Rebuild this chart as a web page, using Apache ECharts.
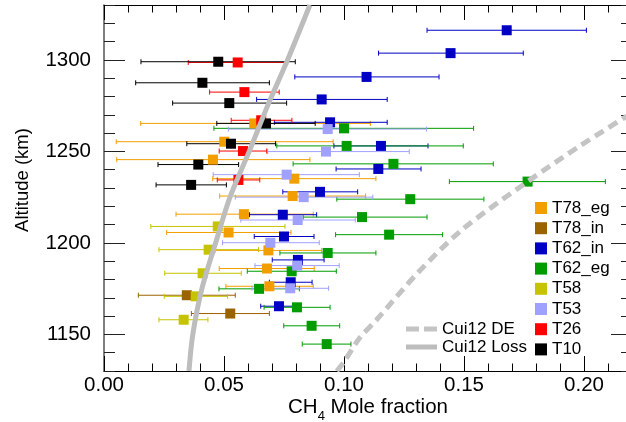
<!DOCTYPE html>
<html>
<head>
<meta charset="utf-8">
<script src="https://cdn.jsdelivr.net/npm/echarts@6/dist/echarts.min.js"></script>
<style>
  html, body { margin: 0; padding: 0; background: #fff; }
  #chart { width: 626px; height: 422px; }
</style>
</head>
<body>
<div id="chart"></div>
<script>
// 每行: [高度 km, 摩尔分数, 误差下限, 误差上限]
const T78_eg = [
  [1265.3, 0.0626, 0.0153, 0.111], [1255.3, 0.0501, 0.0051, 0.0955],
  [1245.5, 0.0454, 0.0053, 0.0858], [1235.1, 0.0793, 0.0453, 0.1133],
  [1225.6, 0.0786, 0.0482, 0.109], [1215.7, 0.0583, 0.030, 0.0872],
  [1205.7, 0.0519, 0.0261, 0.0779], [1195.9, 0.0685, 0.0463, 0.0907],
  [1186.0, 0.0679, 0.048, 0.0876], [1176.3, 0.0689, 0.0508, 0.0872]
]
const T78_in = [
  [1171.4, 0.0345, 0.0143, 0.0547], [1161.4, 0.0526, 0.0364, 0.0689]
]
const T62_in = [
  [1316.2, 0.1678, 0.1346, 0.201], [1303.7, 0.1444, 0.1144, 0.1747],
  [1290.7, 0.1094, 0.0795, 0.1396], [1278.4, 0.0907, 0.0636, 0.118],
  [1265.9, 0.0942, 0.071, 0.118], [1253.0, 0.1154, 0.0958, 0.135],
  [1240.4, 0.1143, 0.0967, 0.1321], [1227.9, 0.090, 0.0745, 0.1057],
  [1215.4, 0.0745, 0.0606, 0.0886], [1203.5, 0.075, 0.0626, 0.0875],
  [1190.7, 0.0808, 0.0701, 0.0917], [1178.5, 0.0778, 0.0689, 0.0867],
  [1165.4, 0.0729, 0.0653, 0.080]
]
const T62_eg = [
  [1262.6, 0.100, 0.0458, 0.154], [1253.0, 0.1011, 0.072, 0.1497],
  [1243.2, 0.1206, 0.0788, 0.1622], [1233.5, 0.1765, 0.1439, 0.2089],
  [1223.9, 0.1276, 0.097, 0.1583], [1214.1, 0.1075, 0.083, 0.1346],
  [1204.5, 0.1188, 0.0965, 0.1411], [1194.5, 0.0932, 0.0733, 0.1133],
  [1184.5, 0.0782, 0.0597, 0.0968], [1174.9, 0.0646, 0.0479, 0.0814],
  [1164.8, 0.0804, 0.0667, 0.0942], [1154.7, 0.0865, 0.0749, 0.0982],
  [1144.7, 0.0928, 0.0826, 0.1029]
]
const T58 = [
  [1209.0, 0.0474, 0.0195, 0.0754], [1196.3, 0.0436, 0.0229, 0.0644],
  [1183.4, 0.0411, 0.0253, 0.0572], [1170.8, 0.0382, 0.0251, 0.0515],
  [1158.0, 0.0332, 0.0229, 0.0433]
]
const T53 = [
  [1262.2, 0.0932, 0.0518, 0.1344], [1249.9, 0.0925, 0.0682, 0.1272],
  [1237.3, 0.0761, 0.0455, 0.1064], [1225.0, 0.0832, 0.0547, 0.112],
  [1212.5, 0.0807, 0.057, 0.1047], [1200.1, 0.0693, 0.0494, 0.0897],
  [1187.6, 0.0805, 0.0629, 0.098], [1175.2, 0.0776, 0.0617, 0.0936]
]
const T26 = [
  [1298.6, 0.0557, 0.0351, 0.0765], [1282.4, 0.0585, 0.044, 0.073],
  [1267.0, 0.0655, 0.053, 0.0783], [1250.2, 0.0579, 0.048, 0.0678],
  [1234.4, 0.056, 0.0472, 0.0649]
]
const T10 = [
  [1299.0, 0.0476, 0.0154, 0.0797], [1287.5, 0.041, 0.0132, 0.0689],
  [1276.4, 0.0522, 0.0286, 0.0761], [1265.3, 0.0675, 0.047, 0.088],
  [1254.2, 0.0529, 0.0345, 0.0715], [1242.8, 0.0393, 0.0225, 0.0561],
  [1231.7, 0.0363, 0.0217, 0.051]
]

// Cui12 模型曲线
const lossX = [0.0354, 0.0370, 0.0408, 0.0465, 0.0525, 0.0605, 0.0682, 0.0765, 0.0858]
const lossY = [1130, 1150, 1175, 1200, 1225, 1250, 1275, 1300, 1330]
const deX = [0.0970, 0.1000, 0.1065, 0.1136, 0.1303, 0.1490, 0.1765, 0.1983, 0.2200]
const deY = [1130, 1135, 1148, 1158, 1183, 1207, 1233.5, 1253, 1271]

// 刻度
const xMajor = [0, 0.05, 0.10, 0.15, 0.20]
const yMajor = [1150, 1200, 1250, 1300]

const groups = [
  { name: 'T78_eg', rows: T78_eg, color: '#f29e00' },
  { name: 'T78_in', rows: T78_in, color: '#9a6300' },
  { name: 'T62_in', rows: T62_in, color: '#0000c4' },
  { name: 'T62_eg', rows: T62_eg, color: '#009c00' },
  { name: 'T58', rows: T58, color: '#c6c400' },
  { name: 'T53', rows: T53, color: '#a0a0ff' },
  { name: 'T26', rows: T26, color: '#ff0000' },
  { name: 'T10', rows: T10, color: '#000000' }
]

const FONT = "'Liberation Sans', Arial, sans-serif"
const LEGEND_FONT = 17

function xAxisOf(pos, major) {
  return {
    type: 'value', position: pos, min: 0, max: 0.22, interval: 0.01,
    axisLine: { show: major, onZero: false, lineStyle: { color: '#000', width: 1 } },
    axisTick: {
      show: true, inside: true, length: major ? 15 : 7.5,
      customValues: major ? xMajor : undefined,
      lineStyle: { color: '#000', width: 1 }
    },
    axisLabel: {
      show: major && pos === 'bottom', customValues: xMajor, margin: 4,
      color: '#000', fontSize: 20.5, fontFamily: FONT,
      formatter: v => v.toFixed(2)
    },
    splitLine: { show: false }
  }
}

function yAxisOf(pos, major) {
  return {
    type: 'value', position: pos, min: 1130, max: 1330, interval: 10,
    axisLine: { show: major, onZero: false, lineStyle: { color: pos === 'left' ? '#555' : '#000', width: pos === 'left' ? 1.5 : 1 } },
    axisTick: {
      show: true, inside: true, length: major ? 21 : 11,
      customValues: major ? yMajor : undefined,
      lineStyle: { color: '#222', width: 1 }
    },
    axisLabel: {
      show: major && pos === 'left', customValues: yMajor, margin: 13,
      color: '#000', fontSize: 20.5, fontFamily: FONT,
      formatter: v => String(v)
    },
    splitLine: { show: false }
  }
}

const series = []
series.push({
  name: 'Cui12 DE', type: 'line', xAxisIndex: 0, yAxisIndex: 0,
  data: deX.map((x, i) => [x, deY[i]]),
  symbol: 'none', smooth: 0.3, silent: true,
  itemStyle: { color: '#c4c4c4' },
  lineStyle: { color: '#c4c4c4', width: 5, type: [10, 6], cap: 'butt' }
})
series.push({
  name: 'Cui12 Loss', type: 'line', xAxisIndex: 0, yAxisIndex: 0,
  data: lossX.map((x, i) => [x, lossY[i]]),
  symbol: 'none', smooth: 0.3, silent: true,
  itemStyle: { color: '#bdbdbd' },
  lineStyle: { color: '#bdbdbd', width: 5 }
})

groups.forEach(g => {
  // 误差棒
  series.push({
    name: g.name + ' err', type: 'custom', xAxisIndex: 0, yAxisIndex: 0, silent: true,
    data: g.rows.map(r => [r[2], r[3], r[0]]),
    encode: { x: [0, 1], y: 2 },
    renderItem: function (params, api) {
      const a = api.coord([api.value(0), api.value(2)])
      const b = api.coord([api.value(1), api.value(2)])
      const h = 2.5
      const style = { stroke: g.color, lineWidth: 1 }
      return {
        type: 'group',
        children: [
          { type: 'line', shape: { x1: a[0], y1: a[1], x2: b[0], y2: b[1] }, style },
          { type: 'line', shape: { x1: a[0], y1: a[1] - h, x2: a[0], y2: a[1] + h }, style },
          { type: 'line', shape: { x1: b[0], y1: b[1] - h, x2: b[0], y2: b[1] + h }, style }
        ]
      }
    }
  })
  // 数据点
  series.push({
    name: g.name, type: 'scatter', xAxisIndex: 0, yAxisIndex: 0,
    data: g.rows.map(r => [r[1], r[0]]),
    symbol: 'rect', symbolSize: 10,
    itemStyle: { color: g.color, opacity: 1 }
  })
})

const chart = echarts.init(document.getElementById('chart'), null, { renderer: 'canvas' })
const option = {
  backgroundColor: '#ffffff',
  animation: false,
  grid: { left: 104, top: 5, width: 528, height: 366, containLabel: false, outerBoundsMode: 'none' },
  xAxis: [xAxisOf('bottom', true), xAxisOf('bottom', false), xAxisOf('top', true), xAxisOf('top', false)],
  yAxis: [yAxisOf('left', true), yAxisOf('left', false), yAxisOf('right', true), yAxisOf('right', false)],
  legend: [
    {
      data: groups.map(g => g.name),
      orient: 'vertical', left: 535, top: 198, padding: 0,
      itemWidth: 12, itemHeight: 12, itemGap: 0.2, icon: 'rect',
      selectedMode: false,
      textStyle: { color: '#000', fontSize: LEGEND_FONT, fontFamily: FONT, lineHeight: 20 }
    },
    {
      data: [
        { name: 'Cui12 DE', icon: 'path://M0,0h13v5h-13z M18,0h13v5h-13z' },
        { name: 'Cui12 Loss', icon: 'path://M0,0h31v5h-31z' }
      ],
      orient: 'vertical', left: 406, top: 320, padding: 0,
      itemWidth: 31, itemHeight: 5, itemGap: 0,
      selectedMode: false,
      textStyle: { color: '#000', fontSize: LEGEND_FONT, fontFamily: FONT, lineHeight: 18 }
    }
  ],
  graphic: [
    {
      type: 'text', x: 22.5, y: 180, rotation: Math.PI / 2,
      style: {
        text: 'Altitude (km)', fill: '#000', font: '18.5px ' + FONT,
        textAlign: 'center', textVerticalAlign: 'middle'
      }
    },
    {
      type: 'text', x: 368, y: 397,
      style: {
        text: '{n|CH}{s|4}{n| Mole fraction}', fill: '#000',
        textAlign: 'center', textVerticalAlign: 'top',
        rich: {
          n: { fontSize: 20.5, fontFamily: FONT, lineHeight: 26, verticalAlign: 'top', fill: '#000' },
          s: { fontSize: 13, fontFamily: FONT, lineHeight: 13, verticalAlign: 'bottom', fill: '#000' }
        }
      }
    }
  ],
  series: series
}
chart.setOption(option)
window.addEventListener('resize', () => { chart.resize() })
</script>
</body>
</html>
